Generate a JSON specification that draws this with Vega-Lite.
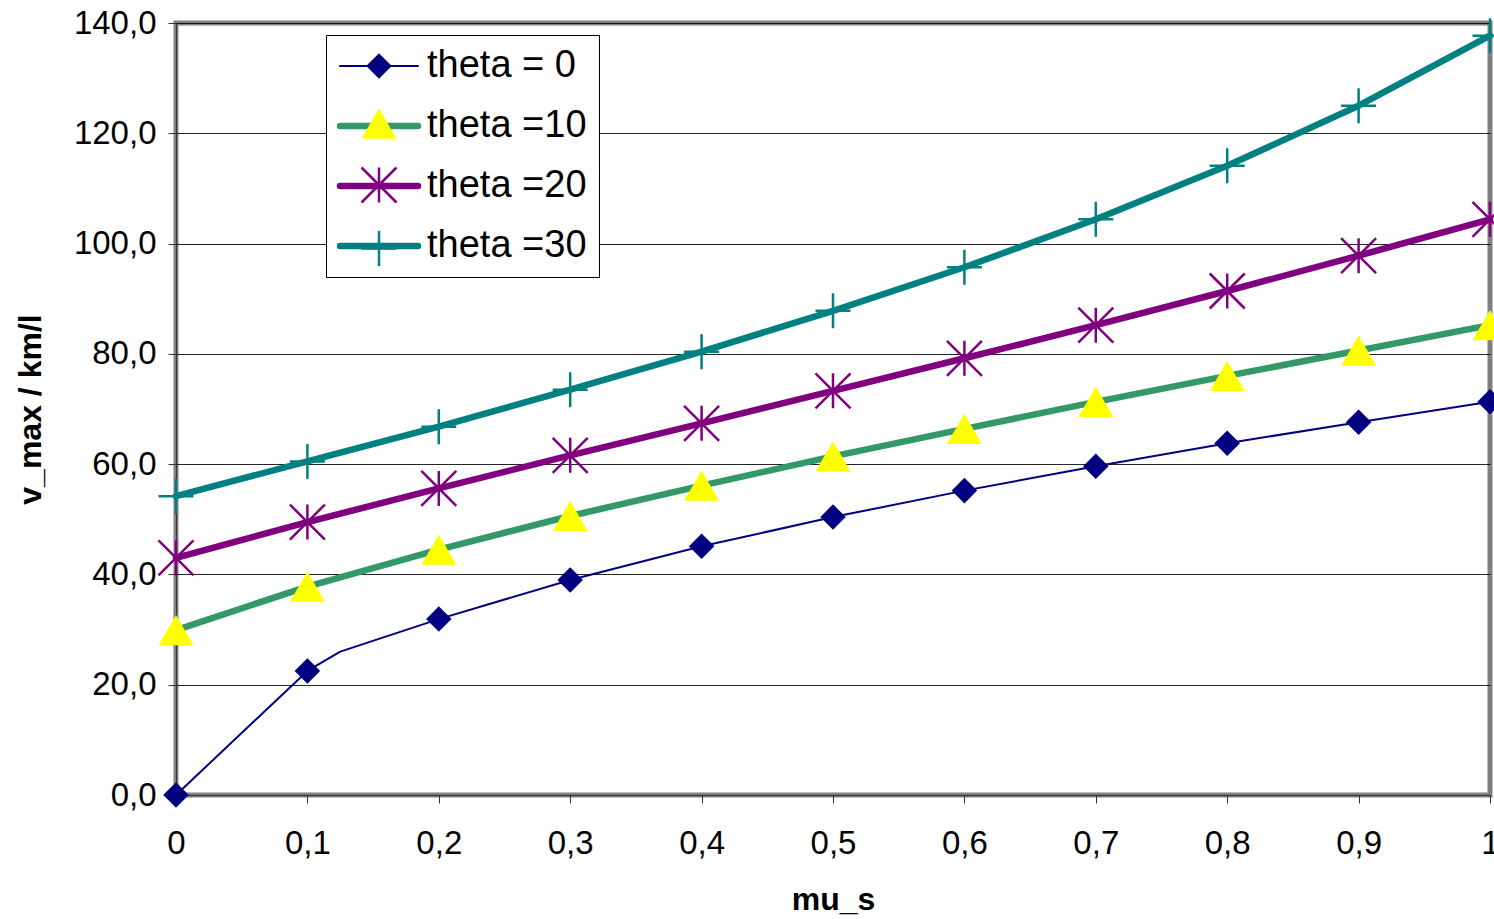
{
  "$schema": "https://vega.github.io/schema/vega-lite/v6.json",
  "width": 1314,
  "height": 772,
  "autosize": {"type": "none"},
  "padding": {"left": 176, "top": 23, "right": 4, "bottom": 124},
  "background": "white",
  "config": {
    "view": {"stroke": "#808080", "strokeWidth": 5},
    "font": "Liberation Sans",
    "axis": {
      "labelFont": "Liberation Sans",
      "labelFontSize": 33,
      "labelColor": "#000000",
      "titleFont": "Liberation Sans",
      "titleFontSize": 32,
      "titleFontWeight": "bold",
      "titleColor": "#000000",
      "tickColor": "#333333",
      "tickSize": 8,
      "domainColor": "#333333",
      "domainWidth": 1
    }
  },
  "datasets": {
    "curve": [
      {"theta": "theta = 0", "mu": 0, "v": 0},
      {"theta": "theta = 0", "mu": 0.1, "v": 22.5},
      {"theta": "theta = 0", "mu": 0.125, "v": 26.0},
      {"theta": "theta = 0", "mu": 0.2, "v": 31.9},
      {"theta": "theta = 0", "mu": 0.3, "v": 39.0},
      {"theta": "theta = 0", "mu": 0.4, "v": 45.1},
      {"theta": "theta = 0", "mu": 0.5, "v": 50.4},
      {"theta": "theta = 0", "mu": 0.6, "v": 55.2},
      {"theta": "theta = 0", "mu": 0.7, "v": 59.6},
      {"theta": "theta = 0", "mu": 0.8, "v": 63.8},
      {"theta": "theta = 0", "mu": 0.9, "v": 67.6},
      {"theta": "theta = 0", "mu": 1, "v": 71.3},
      {"theta": "theta =10", "mu": 0, "v": 29.9},
      {"theta": "theta =10", "mu": 0.1, "v": 37.8},
      {"theta": "theta =10", "mu": 0.2, "v": 44.5},
      {"theta": "theta =10", "mu": 0.3, "v": 50.6},
      {"theta": "theta =10", "mu": 0.4, "v": 56.1},
      {"theta": "theta =10", "mu": 0.5, "v": 61.4},
      {"theta": "theta =10", "mu": 0.6, "v": 66.4},
      {"theta": "theta =10", "mu": 0.7, "v": 71.3},
      {"theta": "theta =10", "mu": 0.8, "v": 76.0},
      {"theta": "theta =10", "mu": 0.9, "v": 80.6},
      {"theta": "theta =10", "mu": 1, "v": 85.2},
      {"theta": "theta =20", "mu": 0, "v": 43.0},
      {"theta": "theta =20", "mu": 0.1, "v": 49.5},
      {"theta": "theta =20", "mu": 0.2, "v": 55.6},
      {"theta": "theta =20", "mu": 0.3, "v": 61.6},
      {"theta": "theta =20", "mu": 0.4, "v": 67.4},
      {"theta": "theta =20", "mu": 0.5, "v": 73.3},
      {"theta": "theta =20", "mu": 0.6, "v": 79.2},
      {"theta": "theta =20", "mu": 0.7, "v": 85.2},
      {"theta": "theta =20", "mu": 0.8, "v": 91.4},
      {"theta": "theta =20", "mu": 0.9, "v": 97.8},
      {"theta": "theta =20", "mu": 1, "v": 104.4},
      {"theta": "theta =30", "mu": 0, "v": 54.2},
      {"theta": "theta =30", "mu": 0.1, "v": 60.5},
      {"theta": "theta =30", "mu": 0.2, "v": 66.8},
      {"theta": "theta =30", "mu": 0.3, "v": 73.5},
      {"theta": "theta =30", "mu": 0.4, "v": 80.4},
      {"theta": "theta =30", "mu": 0.5, "v": 87.8},
      {"theta": "theta =30", "mu": 0.6, "v": 95.7},
      {"theta": "theta =30", "mu": 0.7, "v": 104.4},
      {"theta": "theta =30", "mu": 0.8, "v": 114.1},
      {"theta": "theta =30", "mu": 0.9, "v": 125.0},
      {"theta": "theta =30", "mu": 1, "v": 137.7}
    ],
    "markers": [
      {"theta": "theta = 0", "mu": 0, "v": 0},
      {"theta": "theta = 0", "mu": 0.1, "v": 22.5},
      {"theta": "theta = 0", "mu": 0.2, "v": 31.9},
      {"theta": "theta = 0", "mu": 0.3, "v": 39.0},
      {"theta": "theta = 0", "mu": 0.4, "v": 45.1},
      {"theta": "theta = 0", "mu": 0.5, "v": 50.4},
      {"theta": "theta = 0", "mu": 0.6, "v": 55.2},
      {"theta": "theta = 0", "mu": 0.7, "v": 59.6},
      {"theta": "theta = 0", "mu": 0.8, "v": 63.8},
      {"theta": "theta = 0", "mu": 0.9, "v": 67.6},
      {"theta": "theta = 0", "mu": 1, "v": 71.3},
      {"theta": "theta =10", "mu": 0, "v": 29.9},
      {"theta": "theta =10", "mu": 0.1, "v": 37.8},
      {"theta": "theta =10", "mu": 0.2, "v": 44.5},
      {"theta": "theta =10", "mu": 0.3, "v": 50.6},
      {"theta": "theta =10", "mu": 0.4, "v": 56.1},
      {"theta": "theta =10", "mu": 0.5, "v": 61.4},
      {"theta": "theta =10", "mu": 0.6, "v": 66.4},
      {"theta": "theta =10", "mu": 0.7, "v": 71.3},
      {"theta": "theta =10", "mu": 0.8, "v": 76.0},
      {"theta": "theta =10", "mu": 0.9, "v": 80.6},
      {"theta": "theta =10", "mu": 1, "v": 85.2},
      {"theta": "theta =20", "mu": 0, "v": 43.0},
      {"theta": "theta =20", "mu": 0.1, "v": 49.5},
      {"theta": "theta =20", "mu": 0.2, "v": 55.6},
      {"theta": "theta =20", "mu": 0.3, "v": 61.6},
      {"theta": "theta =20", "mu": 0.4, "v": 67.4},
      {"theta": "theta =20", "mu": 0.5, "v": 73.3},
      {"theta": "theta =20", "mu": 0.6, "v": 79.2},
      {"theta": "theta =20", "mu": 0.7, "v": 85.2},
      {"theta": "theta =20", "mu": 0.8, "v": 91.4},
      {"theta": "theta =20", "mu": 0.9, "v": 97.8},
      {"theta": "theta =20", "mu": 1, "v": 104.4},
      {"theta": "theta =30", "mu": 0, "v": 54.2},
      {"theta": "theta =30", "mu": 0.1, "v": 60.5},
      {"theta": "theta =30", "mu": 0.2, "v": 66.8},
      {"theta": "theta =30", "mu": 0.3, "v": 73.5},
      {"theta": "theta =30", "mu": 0.4, "v": 80.4},
      {"theta": "theta =30", "mu": 0.5, "v": 87.8},
      {"theta": "theta =30", "mu": 0.6, "v": 95.7},
      {"theta": "theta =30", "mu": 0.7, "v": 104.4},
      {"theta": "theta =30", "mu": 0.8, "v": 114.1},
      {"theta": "theta =30", "mu": 0.9, "v": 125.0},
      {"theta": "theta =30", "mu": 1, "v": 137.7}
    ]
  },
  "layer": [
    {
      "data": {"name": "curve"},
      "mark": {"type": "line", "strokeJoin": "round", "strokeCap": "round"},
      "encoding": {
        "x": {
          "field": "mu", "type": "quantitative",
          "scale": {"domain": [0, 1], "nice": false, "zero": false},
          "axis": {
            "title": "mu_s",
            "values": [0, 0.1, 0.2, 0.3, 0.4, 0.5, 0.6, 0.7, 0.8, 0.9, 1],
            "format": "~g",
            "labelExpr": "replace(datum.label, '.', ',')",
            "labelPadding": 24,
            "titlePadding": 24,
            "grid": false,
            "labelFlush": false,
            "labelOverlap": false
          }
        },
        "y": {
          "field": "v", "type": "quantitative",
          "scale": {"domain": [0, 140], "nice": false},
          "axis": {
            "title": "v_max / km/l",
            "values": [0, 20, 40, 60, 80, 100, 120, 140],
            "labelExpr": "replace(format(datum.value, '.1f'), '.', ',')",
            "labelPadding": 12,
            "titlePadding": 26,
            "grid": true,
            "gridColor": "#000000",
            "gridWidth": 1,
            "gridOpacity": 0.85,
            "labelFlush": false,
            "labelOverlap": false
          }
        },
        "stroke": {
          "field": "theta", "type": "nominal",
          "scale": {
            "domain": ["theta = 0", "theta =10", "theta =20", "theta =30"],
            "range": ["#000080", "#339966", "#800080", "#008080"]
          },
          "legend": {
            "title": null,
            "orient": "none",
            "legendX": 150,
            "legendY": 12,
            "symbolType": "M-3,0L3,0",
            "symbolSize": 676,
            "symbolOffset": 22,
            "labelFont": "Liberation Sans",
            "labelFontSize": 38,
            "labelColor": "#000000",
            "labelLimit": 400,
            "labelOffset": 29,
            "rowPadding": 22,
            "padding": 12,
            "strokeColor": "#000000",
            "fillColor": "#ffffff",
            "cornerRadius": 0,
            "encode": {"symbols": {"update": {"strokeCap": {"value": "round"}, "fill": {"value": "transparent"}}}}
          }
        },
        "strokeWidth": {
          "field": "theta", "type": "nominal",
          "scale": {
            "type": "ordinal",
            "domain": ["theta = 0", "theta =10", "theta =20", "theta =30"],
            "range": [2, 6.5, 6.5, 6.5]
          }
        }
      }
    },
    {
      "data": {"name": "markers"},
      "mark": {"type": "point", "opacity": 1, "filled": true, "strokeWidth": 2.5},
      "encoding": {
        "x": {"field": "mu", "type": "quantitative"},
        "y": {"field": "v", "type": "quantitative"},
        "shape": {
          "field": "theta", "type": "nominal",
          "scale": {
            "domain": ["theta = 0", "theta =10", "theta =20", "theta =30"],
            "range": ["diamond", "triangle-up", "M-1,-1L1,1M-1,1L1,-1M0,-1L0,1", "M-1,0L1,0M0,-1L0,1"]
          },
          "legend": {
            "title": null,
            "orient": "none",
            "legendX": 150,
            "legendY": 12,
            "symbolOffset": 22,
            "labelFont": "Liberation Sans",
            "labelFontSize": 38,
            "labelExpr": "''",
            "labelLimit": 400,
            "labelOffset": 29,
            "rowPadding": 17.5,
            "padding": 12,
            "symbolStrokeWidth": 2.5,
            "symbolOpacity": 1
          }
        },
        "fill": {
          "field": "theta", "type": "nominal",
          "scale": {
            "domain": ["theta = 0", "theta =10", "theta =20", "theta =30"],
            "range": ["#000080", "#FFFF00", "transparent", "transparent"]
          }
        },
        "stroke": {
          "field": "theta", "type": "nominal",
          "scale": {
            "domain": ["theta = 0", "theta =10", "theta =20", "theta =30"],
            "range": ["#000080", "transparent", "#800080", "#008080"]
          }
        },
        "size": {
          "field": "theta", "type": "nominal",
          "scale": {
            "type": "ordinal",
            "domain": ["theta = 0", "theta =10", "theta =20", "theta =30"],
            "range": [484, 1225, 1225, 1225]
          }
        }
      }
    }
  ],
  "resolve": {
    "scale": {
      "stroke": "independent",
      "strokeWidth": "independent",
      "shape": "independent",
      "fill": "independent",
      "size": "independent"
    }
  }
}
